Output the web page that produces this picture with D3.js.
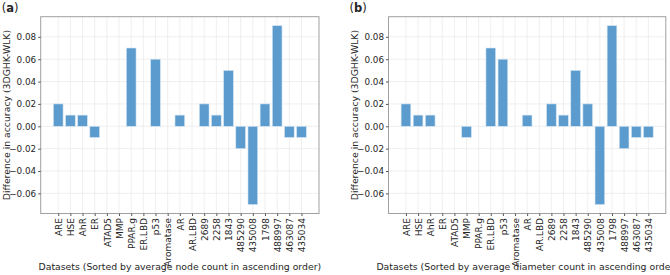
<!DOCTYPE html>
<html>
<head>
<meta charset="utf-8">
<script src="https://cdn.jsdelivr.net/npm/d3@7"></script>
<style>
  body { margin: 0; background: #fff; }
  text { font-family: "DejaVu Sans", sans-serif; fill: #262626; }
</style>
</head>
<body>
<div id="chart"></div>
<script>
// dataset labels (same order in both panels)
const datasets = ["ARE", "HSE", "AhR", "ER", "ATAD5", "MMP", "PPAR.g", "ER.LBD", "p53", "Aromatase",
    "AR", "AR.LBD", "2689", "2258", "1843", "485290", "435008", "1798", "488997", "463087", "435034"];

// (a) sorted by average node count
const diffNodeOrder = [0.02, 0.01, 0.01, -0.01, 0, 0, 0.07, 0, 0.06, 0,
    0.01, 0, 0.02, 0.01, 0.05, -0.02, -0.07, 0.02, 0.09, -0.01, -0.01];

// (b) sorted by average diameter count
const diffDiameterOrder = [0.02, 0.01, 0.01, 0, 0, -0.01, 0, 0.07, 0.06, 0,
    0.01, 0, 0.02, 0.01, 0.05, 0.02, -0.07, 0.09, -0.02, -0.01, -0.01];

const yTicks = [-0.06, -0.04, -0.02, 0.00, 0.02, 0.04, 0.06, 0.08];

const svg = d3.select("#chart")
    .append("svg")
    .attr("width", 670)
    .attr("height", 275);

function drawPanel(left, right, values, panelLabel, xLabel) {
    const top = 16.7, bottom = 213.5;

    // matplotlib style margins around the bars
    const x = d3.scaleLinear().domain([-1.44, datasets.length - 1 + 1.44]).range([left, right]);
    const y = d3.scaleLinear().domain([-0.078, 0.098]).range([bottom, top]);
    const bw = (x(0.4) - x(-0.4));

    const g = svg.append("g");

    // grid
    g.selectAll(".vgrid")
        .data(datasets)
        .enter()
        .append("line")
        .attr("x1", (d, i) => x(i))
        .attr("x2", (d, i) => x(i))
        .attr("y1", top)
        .attr("y2", bottom)
        .style("stroke", "#ebebeb")
        .style("stroke-width", 0.8);

    g.selectAll(".hgrid")
        .data(yTicks)
        .enter()
        .append("line")
        .attr("x1", left)
        .attr("x2", right)
        .attr("y1", d => y(d))
        .attr("y2", d => y(d))
        .style("stroke", "#ebebeb")
        .style("stroke-width", 0.8);

    // bars
    g.selectAll(".bar")
        .data(values)
        .enter()
        .append("rect")
        .attr("x", (d, i) => x(i) - bw / 2)
        .attr("y", d => y(Math.max(0, d)))
        .attr("width", bw)
        .attr("height", d => Math.abs(y(d) - y(0)))
        .style("fill", "#5b9bcd")
        .style("stroke", "#d6e6f3")
        .style("stroke-width", 0.6);

    // frame
    g.append("rect")
        .attr("x", left)
        .attr("y", top)
        .attr("width", right - left)
        .attr("height", bottom - top)
        .style("fill", "none")
        .style("stroke", "#a0a0a0")
        .style("stroke-width", 1);

    // y axis
    const yAxis = g.append("g")
        .attr("transform", `translate(${left},0)`)
        .call(d3.axisLeft(y).tickValues(yTicks).tickFormat(d3.format(".2f")).tickSize(2.5).tickPadding(2));
    yAxis.select(".domain").remove();
    yAxis.selectAll("line").style("stroke", "#555");
    yAxis.selectAll("text")
        .text(d => d3.format(".2f")(d).replace("-", "\u2212"))
        .style("font-size", "8.8px")
        .style("font-family", "DejaVu Sans")
        .style("fill", "#262626");

    // x axis
    const xAxis = g.append("g")
        .attr("transform", `translate(0,${bottom})`)
        .call(d3.axisBottom(x).tickValues(d3.range(datasets.length)).tickFormat(i => datasets[i]).tickSize(2.5).tickPadding(2));
    xAxis.select(".domain").remove();
    xAxis.selectAll("line").style("stroke", "#555");
    xAxis.selectAll("text")
        .attr("transform", "rotate(-90)")
        .attr("x", -4.5)
        .attr("y", 0)
        .attr("dy", "0.35em")
        .style("text-anchor", "end")
        .style("font-size", "9px")
        .style("font-family", "DejaVu Sans")
        .style("fill", "#262626");

    // axis labels
    g.append("text")
        .attr("transform", `translate(${left - 33.5},${(top + bottom) / 2}) rotate(-90)`)
        .attr("dy", "0.35em")
        .style("text-anchor", "middle")
        .style("font-size", "9.3px")
        .text("Difference in accuracy (3DGHK-WLK)");

    g.append("text")
        .attr("x", (left + right) / 2)
        .attr("y", 267)
        .attr("dy", "0.35em")
        .style("text-anchor", "middle")
        .style("font-size", "9.3px")
        .text(xLabel);

    // panel letter
    const t = g.append("text")
        .attr("x", left - 39)
        .attr("y", 12)
        .style("font-size", "11.5px");
    t.append("tspan").text("(");
    t.append("tspan").style("font-weight", "bold").text(panelLabel);
    t.append("tspan").text(")");
}

drawPanel(40.7, 319, diffNodeOrder, "a", "Datasets (Sorted by average node count in ascending order)");
drawPanel(388.5, 665.8, diffDiameterOrder, "b", "Datasets (Sorted by average diameter count in ascending order)");
</script>
</body>
</html>
